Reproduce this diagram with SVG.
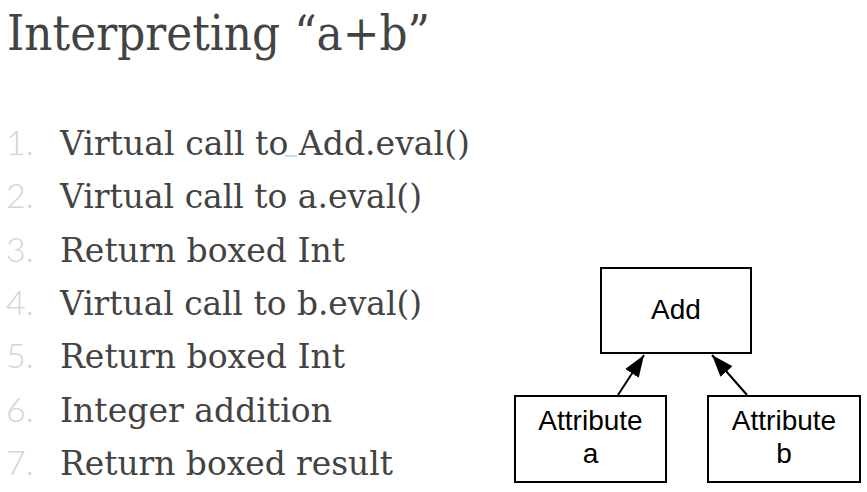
<svg xmlns="http://www.w3.org/2000/svg" width="867" height="492" viewBox="0 0 867 492">
<style>
.title{font-family:"DejaVu Serif",serif;font-size:49px;fill:#434343}
.item{font-family:"DejaVu Serif",serif;font-size:33px;fill:#434343}
.num{font-family:Lato,"Liberation Sans",sans-serif;font-weight:300;font-size:34px;fill:#d4d4d4}
.box{fill:#fff;stroke:#000;stroke-width:2}
.lbl{font-family:"Liberation Sans",Arial,sans-serif;font-size:28px;fill:#000;text-anchor:middle}
.edge{stroke:#000;stroke-width:2;fill:none}
</style>
<defs>
<marker id="ah" markerUnits="userSpaceOnUse" markerWidth="24" markerHeight="18" refX="22" refY="8" orient="auto" viewBox="0 0 24 16">
<path d="M0,0 L22,8 L0,16 Z" fill="#000"/>
</marker>
</defs>
<rect width="867" height="492" fill="#fff"/>
<text class="title" x="7" y="50" textLength="423" lengthAdjust="spacingAndGlyphs">Interpreting “a+b”</text>
<g id="list">
<text class="num" x="6" y="155">1.</text>
<text class="item" x="60" y="155" textLength="410" lengthAdjust="spacingAndGlyphs">Virtual call to Add.eval()</text>
<line x1="285" y1="156" x2="297" y2="156" stroke="#a4c2f4" stroke-width="1.2"/>
<text class="num" x="6" y="208.3">2.</text>
<text class="item" x="60" y="208.3" textLength="362" lengthAdjust="spacingAndGlyphs">Virtual call to a.eval()</text>
<text class="num" x="6" y="261.7">3.</text>
<text class="item" x="60" y="261.7" textLength="285" lengthAdjust="spacingAndGlyphs">Return boxed Int</text>
<text class="num" x="6" y="315">4.</text>
<text class="item" x="60" y="315" textLength="362" lengthAdjust="spacingAndGlyphs">Virtual call to b.eval()</text>
<text class="num" x="6" y="368.3">5.</text>
<text class="item" x="60" y="368.3" textLength="285" lengthAdjust="spacingAndGlyphs">Return boxed Int</text>
<text class="num" x="6" y="421.7">6.</text>
<text class="item" x="60" y="421.7" textLength="272" lengthAdjust="spacingAndGlyphs">Integer addition</text>
<text class="num" x="6" y="475">7.</text>
<text class="item" x="60" y="475" textLength="333" lengthAdjust="spacingAndGlyphs">Return boxed result</text>
</g>
<g id="connectors">
<line class="edge" x1="618" y1="395" x2="644" y2="355" marker-end="url(#ah)"/>
<line class="edge" x1="747" y1="395" x2="712" y2="355" marker-end="url(#ah)"/>
</g>
<g id="add">
<rect class="box" x="601" y="268" width="150" height="85"/>
<text class="lbl" x="676" y="319">Add</text>
</g>
<g id="attr-a">
<rect class="box" x="515" y="396" width="151" height="86"/>
<text class="lbl" x="590.5" y="430">Attribute</text>
<text class="lbl" x="590.5" y="463">a</text>
</g>
<g id="attr-b">
<rect class="box" x="708" y="396" width="152" height="86"/>
<text class="lbl" x="784" y="430">Attribute</text>
<text class="lbl" x="784" y="463">b</text>
</g>
</svg>
